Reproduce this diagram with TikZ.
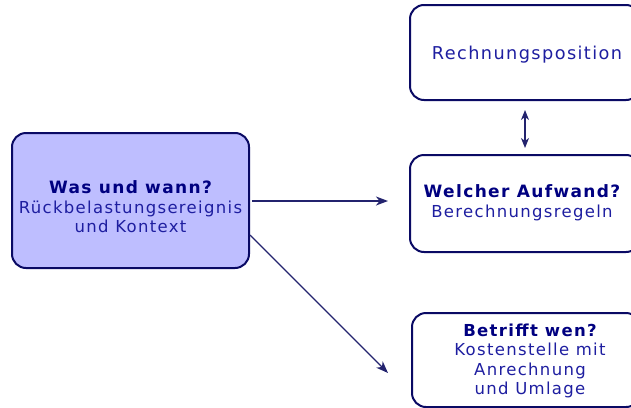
\documentclass[tikz,border=0pt]{standalone}
\usepackage{fontspec}
\setmainfont{DejaVu Sans}[LetterSpace=8]
\usetikzlibrary{arrows.meta,calc}
\definecolor{boxfill}{RGB}{190,190,255}
\definecolor{boxline}{RGB}{10,10,100}
\definecolor{titletext}{RGB}{0,0,128}
\definecolor{bodytext}{RGB}{30,30,160}
\definecolor{arrowcol}{RGB}{35,35,110}
\begin{document}
\begin{tikzpicture}[x=1pt,y=-1pt,
  box/.style={draw=boxline, line width=2pt, rounded corners=14pt, inner sep=0pt},
  txt/.style={align=center, text=bodytext, font=\fontsize{16.5}{19.5}\selectfont, inner sep=0pt},
  conn/.style={draw=arrowcol, line width=1.3pt, -{Stealth[length=12pt,width=9pt,inset=3.5pt]}},
  dconn/.style={draw=arrowcol, line width=1.3pt, {Stealth[length=10pt,width=8pt,inset=3pt]}-{Stealth[length=10pt,width=8pt,inset=3pt]}}]
\useasboundingbox (0,0) rectangle (631,407);
\clip (0,0) rectangle (631,407);
% boxes
\node[box, fill=boxfill, minimum width=237pt, minimum height=135pt] (what) at (130.5,200.5) {};
\node[txt] (whattext) at (130.5,207) {{\color{titletext}\bfseries\fontsize{17}{19.5}\selectfont Was und wann?}\\Rückbelastungsereignis\\und Kontext};
\node[box, minimum width=230pt, minimum height=95pt] (pos) at (525,52.5) {};
\node[txt, font=\fontsize{17.7}{19.5}\selectfont] (postext) at (527,55) {Rechnungsposition};
\node[box, minimum width=230pt, minimum height=97pt] (cost) at (525,203.5) {};
\node[txt] (costtext) at (522,203) {{\color{titletext}\bfseries\fontsize{17}{19.5}\selectfont Welcher Aufwand?}\\Berechnungsregeln};
\node[box, minimum width=228pt, minimum height=94pt] (who) at (526,360) {};
\node[txt] (whotext) at (530,361) {{\color{titletext}\bfseries\fontsize{16.5}{19.5}\selectfont Betrifft wen?}\\Kostenstelle mit\\Anrechnung\\und Umlage};
% connectors
\coordinate (hEnd) at (388,201);
\coordinate (dStart) at (250,235);
\coordinate (dEnd) at (388,373);
\draw[conn] ($(what.east)+(2,0.5)$) -- (hEnd);
\draw[conn] (dStart) -- (dEnd);
\draw[dconn, shorten <=9pt, shorten >=6pt] (pos.south) -- (cost.north);
\end{tikzpicture}
\end{document}
